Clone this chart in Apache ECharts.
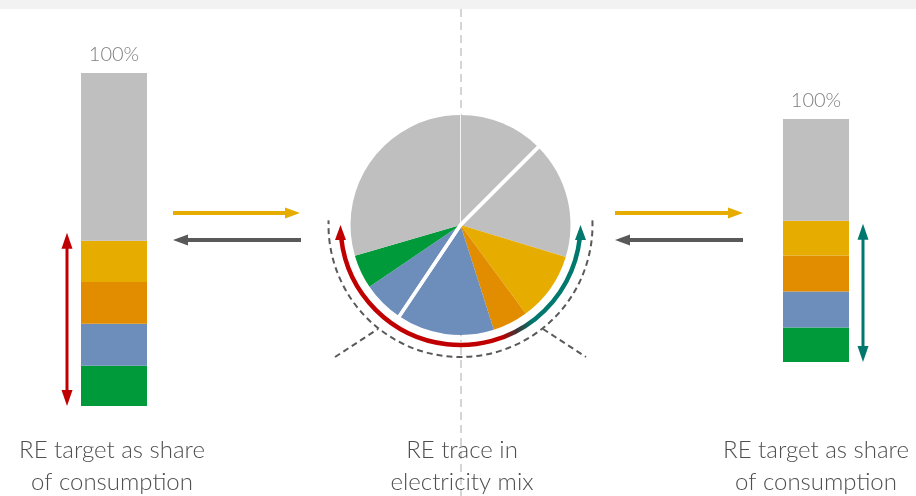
<!DOCTYPE html>
<html>
<head>
<meta charset="utf-8">
<script src="https://cdn.jsdelivr.net/npm/echarts@6/dist/echarts.min.js"></script>
<style>
  html, body { margin: 0; padding: 0; background: #ffffff; }
  #chart { width: 916px; height: 496px; }
</style>
</head>
<body>
<div id="chart"></div>
<script>
// ---- data ----
const segmentNames = ['Biomass', 'Hydro', 'Wind', 'Solar', 'Other'];
const leftShares = [12.1, 12.6, 12.5, 12.4, 50.4];
const rightShares = [14.2, 14.8, 14.8, 14.3, 41.9];
const pieNames = ['Other (B)', 'Other (A)', 'Solar', 'Wind', 'Hydro (A)', 'Hydro (B)', 'Biomass', 'Other (B) '];
const pieValues = [12.5, 17.2, 10.2, 5.2, 14.3, 6.1, 5.0, 29.5];
const topLabel = '100%';
const leftCaption = ['RE target as share', 'of consumption'];
const midCaption = ['RE trace in', 'electricity mix'];
const rightCaption = ['RE target as share', 'of consumption'];

// ---- palette ----
const segColors = ['#009a3a', '#6d8ebb', '#e28c00', '#e6ac00', '#bfbfbf'];
const pieColors = ['#bfbfbf', '#bfbfbf', '#e6ac00', '#e28c00', '#6d8ebb', '#6d8ebb', '#009a3a', '#bfbfbf'];
const RED = '#c00000', TEAL = '#00786e', YEL = '#e6ac00', DARK = '#595959';
const FONT = 'Lato, "Open Sans", sans-serif';

const chart = echarts.init(document.getElementById('chart'), null, { renderer: 'canvas' });

function barSeries(shares, axisIdx, stackName) {
  return shares.map((v, i) => ({
    type: 'bar',
    name: segmentNames[i],
    xAxisIndex: axisIdx,
    yAxisIndex: axisIdx,
    stack: stackName,
    barWidth: '100%',
    silent: true,
    data: [v],
    itemStyle: { color: segColors[i] },
    label: i === shares.length - 1 ? {
      show: true, position: 'top', distance: 8, formatter: topLabel,
      color: '#7f7f7f', fontSize: 20, fontWeight: 300, fontFamily: FONT
    } : { show: false }
  }));
}

const total = pieValues.reduce((a, b) => a + b, 0);
const groupA = pieValues.slice(1, 5).reduce((a, b) => a + b, 0);
const PC = [460.5, 225];
const PR = 110;

chart.setOption({
  animation: false,
  backgroundColor: '#ffffff',
  grid: [
    { left: 81, top: 73, width: 66, height: 333 },
    { left: 783, top: 119, width: 66, height: 243 }
  ],
  xAxis: [
    { type: 'category', gridIndex: 0, data: ['L'], show: false },
    { type: 'category', gridIndex: 1, data: ['R'], show: false }
  ],
  yAxis: [
    { type: 'value', gridIndex: 0, min: 0, max: 100, show: false },
    { type: 'value', gridIndex: 1, min: 0, max: 100, show: false }
  ],
  series: [
    ...barSeries(leftShares, 0, 'left'),
    ...barSeries(rightShares, 1, 'right'),
    {
      type: 'pie', center: PC, radius: [0, PR], startAngle: 90, silent: true,
      label: { show: false }, labelLine: { show: false },
      itemStyle: { borderWidth: 0 },
      data: pieValues.map((v, i) => ({ name: pieNames[i], value: v, itemStyle: { color: pieColors[i] } }))
    },
    {
      type: 'pie', center: PC, radius: [0, PR + 3], startAngle: 90, silent: true, z: 3,
      label: { show: false }, labelLine: { show: false },
      itemStyle: { color: 'rgba(0,0,0,0)', borderColor: 'rgba(255,255,255,0.55)', borderWidth: 1 },
      data: [pieValues[0], total - pieValues[0]]
    },
    {
      type: 'pie', center: PC, radius: [0, PR + 3], startAngle: 90 - 360 * pieValues[0] / total, silent: true, z: 4,
      label: { show: false }, labelLine: { show: false },
      itemStyle: { color: 'rgba(0,0,0,0)', borderColor: '#ffffff', borderWidth: 3.5 },
      data: [groupA, total - groupA]
    }
  ]
});

// ---- annotations ----
function hArrow(x1, x2, y, color) {
  const dir = x2 > x1 ? 1 : -1;
  const base = x2 - dir * 15;
  return [
    { type: 'line', z: 10, shape: { x1: x1, y1: y, x2: base, y2: y }, style: { stroke: color, lineWidth: 4 } },
    { type: 'polygon', z: 10, shape: { points: [[x2, y], [base, y - 5.5], [base, y + 5.5]] }, style: { fill: color } }
  ];
}
function vDoubleArrow(x, yTop, yBot, color) {
  return [
    { type: 'line', z: 10, shape: { x1: x, y1: yTop + 14, x2: x, y2: yBot - 14 }, style: { stroke: color, lineWidth: 3 } },
    { type: 'polygon', z: 10, shape: { points: [[x, yTop], [x - 5.5, yTop + 16], [x + 5.5, yTop + 16]] }, style: { fill: color } },
    { type: 'polygon', z: 10, shape: { points: [[x, yBot], [x - 5.5, yBot - 16], [x + 5.5, yBot - 16]] }, style: { fill: color } }
  ];
}
function caption(lines, cx) {
  return lines.map((t, i) => ({
    type: 'text', z: 10, x: cx, y: 450 + i * 32,
    style: { text: t, fill: '#4f4f4f', font: '300 24px ' + FONT, textAlign: 'center', textVerticalAlign: 'middle' }
  }));
}

const leftRE = leftShares.slice(0, 4).reduce((a, b) => a + b, 0);
const rightRE = rightShares.slice(0, 4).reduce((a, b) => a + b, 0);
const lTop = chart.convertToPixel({ gridIndex: 0 }, ['L', leftRE])[1];
const lBot = chart.convertToPixel({ gridIndex: 0 }, ['L', 0])[1];
const rTop = chart.convertToPixel({ gridIndex: 1 }, ['R', rightRE])[1];
const rBot = chart.convertToPixel({ gridIndex: 1 }, ['R', 0])[1];

const d2r = Math.PI / 180;
const AR = 120;
const graphics = [
  { type: 'rect', z: 0, shape: { x: 0, y: 0, width: 916, height: 9 }, style: { fill: '#f2f2f2' } },
  { type: 'line', z: 0, shape: { x1: 461, y1: 9, x2: 461, y2: 496 }, style: { stroke: '#c8c8c8', lineWidth: 1.5, lineDash: [8, 5] } },
  ...hArrow(173, 300, 213, YEL),
  ...hArrow(301, 173, 240, DARK),
  ...hArrow(615, 743, 213, YEL),
  ...hArrow(743, 615, 240, DARK),
  ...vDoubleArrow(67, lTop - 8, lBot, RED),
  ...vDoubleArrow(863, rTop + 3, rBot, TEAL),
  {
    type: 'arc', z: 10,
    shape: { cx: PC[0], cy: PC[1], r: AR, startAngle: 6.5 * d2r, endAngle: 173.5 * d2r, clockwise: true },
    style: {
      fill: 'none', lineWidth: 4.5,
      stroke: {
        type: 'linear', x: PC[0] - AR, y: 0, x2: PC[0] + AR, y2: 0, global: true,
        colorStops: [
          { offset: 0, color: RED }, { offset: 0.67, color: RED },
          { offset: 0.735, color: '#3e3434' },
          { offset: 0.8, color: TEAL }, { offset: 1, color: TEAL }
        ]
      }
    }
  },
  { type: 'polygon', z: 10, shape: { points: [[PC[0] - AR, PC[1]], [PC[0] - AR - 5.5, PC[1] + 15], [PC[0] - AR + 5.5, PC[1] + 15]] }, style: { fill: RED } },
  { type: 'polygon', z: 10, shape: { points: [[PC[0] + AR, PC[1]], [PC[0] + AR - 5.5, PC[1] + 15], [PC[0] + AR + 5.5, PC[1] + 15]] }, style: { fill: TEAL } },
  {
    type: 'arc', z: 10,
    shape: { cx: PC[0], cy: PC[1], r: 132, startAngle: -2 * d2r, endAngle: 182 * d2r, clockwise: true },
    style: { fill: 'none', stroke: DARK, lineWidth: 2, lineDash: [6, 4] }
  },
  { type: 'line', z: 10, shape: { x1: 335, y1: 357, x2: 378, y2: 329 }, style: { stroke: DARK, lineWidth: 2, lineDash: [6, 4] } },
  { type: 'line', z: 10, shape: { x1: 543, y1: 329, x2: 586, y2: 357 }, style: { stroke: DARK, lineWidth: 2, lineDash: [6, 4] } },
  ...caption(leftCaption, 112),
  ...caption(midCaption, 462),
  ...caption(rightCaption, 816)
];

chart.setOption({ graphic: { elements: graphics } });
</script>
</body>
</html>
